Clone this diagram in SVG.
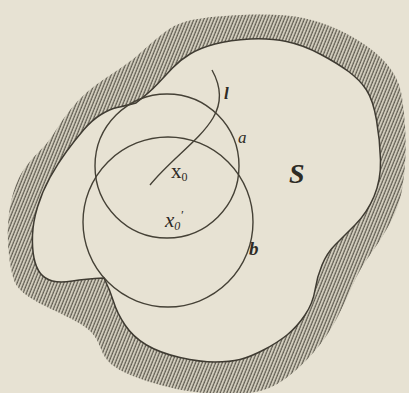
<svg xmlns="http://www.w3.org/2000/svg" width="409" height="393" viewBox="0 0 409 393">
<defs>
<pattern id="hatch" width="3.1" height="10" patternUnits="userSpaceOnUse" patternTransform="rotate(22)">
<rect width="3.1" height="10" fill="#d8d3c3"/>
<line x1="1" y1="-1" x2="1" y2="11" stroke="#615d52" stroke-width="1.3"/>
</pattern>
</defs>
<style>
.ln{fill:none;stroke:#454136;stroke-width:1.4}
.edge{fill:none;stroke:#3f3b32;stroke-width:1.5}
.t{font-family:"Liberation Serif",serif;fill:#2e2b25}
</style>
<rect width="409" height="393" fill="#e7e2d3"/>
<g id="region-S">
<path fill="url(#hatch)" fill-rule="evenodd" d="M163.5,33 Q175,24 187.5,21 Q200,18 217.5,16.5 Q235,15 252.5,14.5 Q270,14 286.5,15.5 Q303,17 320,22.5 Q337,28 352.5,37 Q368,46 378,55 Q388,64 394,74 Q400,84 402,97 Q404,110 405,125 Q406,140 405.5,156.5 Q405,173 402,190 Q399,207 390,223.5 Q381,240 370,255 Q359,270 352,286.5 Q345,303 336,320 Q327,337 313.5,352.5 Q300,368 285,379 Q270,390 252.5,392.5 Q235,395 217.5,394 Q200,393 187.5,391 Q175,389 160,385 Q145,381 131.5,375.5 Q118,370 111,364 Q104,358 100.5,348 Q97,338 91,332 Q85,326 72.5,319.5 Q60,313 49,308 Q38,303 29,297 Q20,291 16,284.5 Q12,278 9.5,260 Q7,242 8,224.5 Q9,207 13.5,192 Q18,177 25.5,167 Q33,157 40.5,150 Q48,143 55,131.5 Q62,120 70,110 Q78,100 86.5,92.5 Q95,85 105,78.5 Q115,72 125,65 Q135,58 143.5,50 Q152,42 163.5,33 Z M136,103 Q150,92 157.5,84 Q165,76 172.5,68 Q180,60 190,54 Q200,48 215,44 Q230,40 250,39 Q270,38 286.5,41.5 Q303,45 320,54 Q337,63 348.5,71.5 Q360,80 366.5,90 Q373,100 376.5,120 Q380,140 380.5,160 Q381,180 374,196.5 Q367,213 355,225 Q343,237 335,245 Q327,253 322,265 Q317,277 315,290 Q313,303 305,315 Q297,327 287,335 Q277,343 263.5,350 Q250,357 240,359.5 Q230,362 215,362 Q200,362 180,357.5 Q160,353 146.5,345 Q133,337 125,325 Q117,313 113.5,301.5 Q110,290 104,278 Q85,279 72.5,281 Q60,283 52.5,281 Q45,279 40.5,273.5 Q36,268 34,258 Q32,248 32.5,235 Q33,222 37.5,207 Q42,192 50,177.5 Q58,163 66.5,151.5 Q75,140 83.5,130 Q92,120 101,114.5 Q110,109 117,107.5 Q124,106 136,103 Z"/>
<path class="edge" d="M136,103 Q150,92 157.5,84 Q165,76 172.5,68 Q180,60 190,54 Q200,48 215,44 Q230,40 250,39 Q270,38 286.5,41.5 Q303,45 320,54 Q337,63 348.5,71.5 Q360,80 366.5,90 Q373,100 376.5,120 Q380,140 380.5,160 Q381,180 374,196.5 Q367,213 355,225 Q343,237 335,245 Q327,253 322,265 Q317,277 315,290 Q313,303 305,315 Q297,327 287,335 Q277,343 263.5,350 Q250,357 240,359.5 Q230,362 215,362 Q200,362 180,357.5 Q160,353 146.5,345 Q133,337 125,325 Q117,313 113.5,301.5 Q110,290 104,278 Q85,279 72.5,281 Q60,283 52.5,281 Q45,279 40.5,273.5 Q36,268 34,258 Q32,248 32.5,235 Q33,222 37.5,207 Q42,192 50,177.5 Q58,163 66.5,151.5 Q75,140 83.5,130 Q92,120 101,114.5 Q110,109 117,107.5 Q124,106 136,103 Z"/>
<text class="t" x="289" y="183" font-size="28" font-style="italic" font-weight="bold">S</text>
</g>
<g id="circle-a">
<circle class="ln" cx="167" cy="166" r="72"/>
<text class="t" x="238" y="143" font-size="17" font-style="italic">a</text>
</g>
<g id="circle-b">
<circle class="ln" cx="168" cy="222" r="85"/>
<text class="t" x="249" y="255" font-size="19" font-style="italic" font-weight="bold">b</text>
</g>
<g id="curve-l">
<path class="ln" stroke-width="1.1" d="M212,70 C222,88 222,103 213,118 C200,140 170,160 150,185"/>
<text class="t" x="224" y="99" font-size="17" font-style="italic" font-weight="bold">l</text>
</g>
<g id="point-x0">
<text class="t" x="171" y="178" font-size="21">x<tspan font-size="12" dy="3">0</tspan></text>
</g>
<g id="point-x0-prime">
<text class="t" x="165" y="227" font-size="21" font-style="italic">x<tspan font-size="12" dy="3">0</tspan><tspan font-size="13" dy="-11">′</tspan></text>
</g>
</svg>
